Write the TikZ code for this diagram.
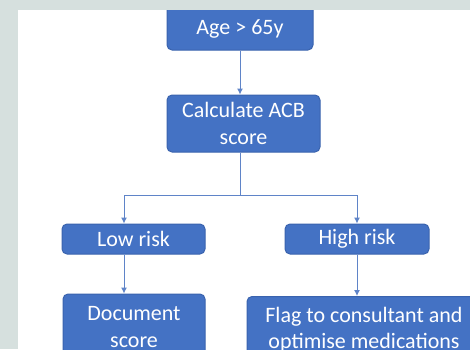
\documentclass[tikz,border=0pt]{standalone}
\usepackage{fontspec}
\setmainfont{Carlito}
\usetikzlibrary{arrows.meta}
\definecolor{bgrey}{HTML}{D6E0DE}
\definecolor{boxblue}{HTML}{4472C4}
\definecolor{boxedge}{HTML}{3A63AE}
\definecolor{linkblue}{HTML}{5F84C8}
\tikzset{
  flowbox/.style={rectangle, rounded corners=5pt, fill=boxblue, draw=boxedge, line width=1pt,
    text=white, font=\fontsize{22}{26.5}\selectfont, align=center, inner sep=0pt},
  link/.style={draw=linkblue, line width=1pt},
  linkarrow/.style={link, -{Latex[length=6pt,width=6pt]}}
}
\begin{document}
\begin{tikzpicture}[x=1pt,y=-1pt]
\useasboundingbox (0,0) rectangle (470,349);
\fill[bgrey] (0,0) rectangle (470,349);
\fill[white] (18,10) rectangle (470,349);
\begin{scope}
\clip (18,10) rectangle (470,349);
\node[flowbox, minimum width=146pt, minimum height=60pt, text height=44pt, text depth=16pt] (age) at (240,20) {Age > 65y};
\node[flowbox, minimum width=153pt, minimum height=57pt] (calc) at (243.5,123.5) {Calculate ACB\\score};
\node[flowbox, minimum width=143pt, minimum height=30pt] (low) at (133.5,239) {Low risk};
\node[flowbox, minimum width=144pt, minimum height=30pt] (high) at (357,239) {High risk};
\node[flowbox, minimum width=142pt, minimum height=66pt] (doc) at (134,327) {Document\\score};
\node[flowbox, minimum width=234pt, minimum height=66pt] (flag) at (364,329.5) {Flag to consultant and\\optimise medications};
\coordinate (j) at (240,195);
\coordinate (jl) at (124,195);
\coordinate (jr) at (357,195);
\draw[linkarrow] (j |- age.south) -- (j |- calc.north);
\draw[link] (j |- calc.south) -- (j);
\draw[link] (jl) -- (jr);
\draw[linkarrow] (jl) -- (jl |- low.north);
\draw[linkarrow] (jr) -- (jr |- high.north);
\draw[linkarrow] (jl |- low.south) -- (jl |- doc.north);
\draw[linkarrow] (jr |- high.south) -- (jr |- flag.north);
\end{scope}
\end{tikzpicture}
\end{document}
